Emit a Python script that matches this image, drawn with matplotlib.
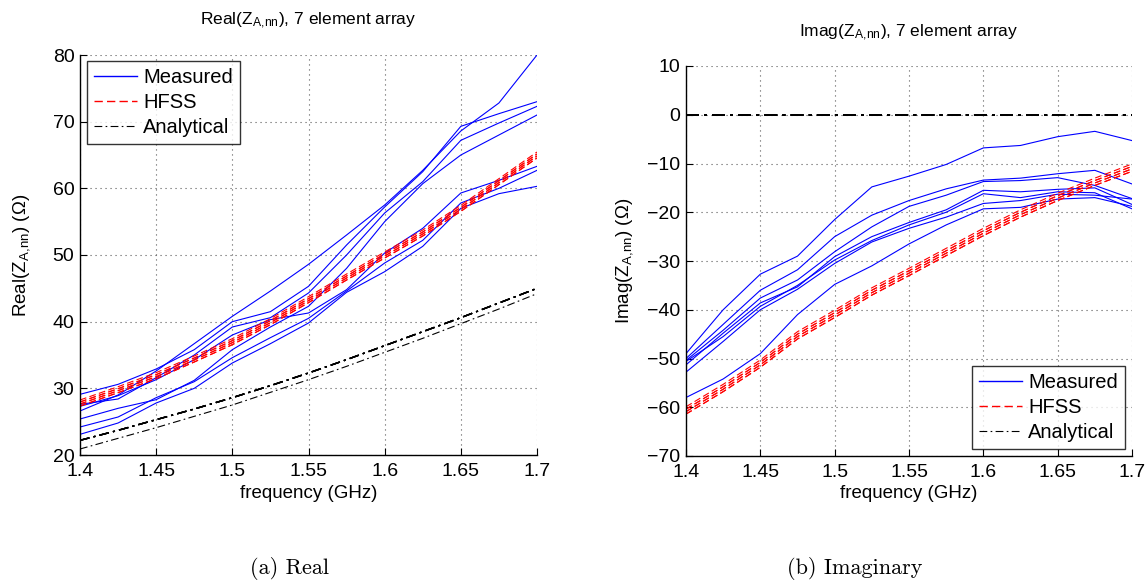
import matplotlib
matplotlib.use("Agg")
import matplotlib.pyplot as plt
import numpy as np
from matplotlib.lines import Line2D

plt.rcParams['font.family'] = ['Liberation Sans', 'DejaVu Sans']
plt.rcParams['mathtext.default'] = 'regular'

# ---------------- data ----------------
freq = [1.4, 1.425, 1.45, 1.475, 1.5, 1.525, 1.55, 1.575, 1.6, 1.625, 1.65, 1.675, 1.7]
xtick_vals = [1.4, 1.45, 1.5, 1.55, 1.6, 1.65, 1.7]
xtick_labels = ['1.4', '1.45', '1.5', '1.55', '1.6', '1.65', '1.7']

# Real part, measured (7 elements)
real_meas_1 = [26.6, 29.0, 32.6, 36.7, 40.8, 44.6, 48.6, 53.0, 57.5, 62.7, 68.6, 72.8, 80.0]
real_meas_2 = [29.1, 30.6, 32.9, 35.8, 40.0, 41.5, 45.3, 51.5, 57.2, 62.5, 69.3, 71.2, 73.0]
real_meas_3 = [27.6, 28.4, 31.6, 35.0, 39.2, 40.6, 44.3, 50.0, 56.3, 61.0, 67.2, 69.8, 72.3]
real_meas_4 = [25.4, 27.0, 28.3, 31.2, 35.8, 39.2, 42.3, 48.0, 55.0, 60.7, 65.0, 68.0, 71.0]
real_meas_5 = [27.3, 28.9, 31.3, 34.3, 38.0, 40.3, 41.3, 44.8, 50.3, 54.0, 59.3, 61.2, 63.3]
real_meas_6 = [24.2, 25.7, 28.6, 31.0, 34.6, 37.6, 40.5, 44.6, 48.8, 52.2, 57.8, 60.0, 62.7]
real_meas_7 = [23.1, 24.8, 27.8, 30.0, 33.8, 36.7, 39.8, 44.4, 47.5, 51.3, 57.0, 59.2, 60.3]
real_measured = [real_meas_1, real_meas_2, real_meas_3, real_meas_4,
                 real_meas_5, real_meas_6, real_meas_7]

# Real part, HFSS (centre curve and per-element spread)
real_hfss_centre = [27.8, 29.8, 31.9, 34.4, 37.0, 40.0, 43.3, 46.7, 50.0, 53.3, 57.0, 61.0, 65.0]
real_hfss_offsets = [-0.45, -0.45, -0.15, -0.15, 0.15, 0.15, 0.45]

# Real part, analytical (two visible groups)
real_anal_a = [22.2, 23.7, 25.3, 26.9, 28.6, 30.4, 32.3, 34.3, 36.4, 38.5, 40.6, 42.8, 45.0]
real_anal_b = [20.9, 22.5, 24.1, 25.8, 27.5, 29.4, 31.3, 33.3, 35.4, 37.5, 39.7, 41.9, 44.2]

# Imaginary part, measured (7 elements)
imag_meas_1 = [-49.0, -40.0, -32.7, -29.0, -21.5, -14.8, -12.6, -10.2, -6.8, -6.3, -4.5, -3.4, -5.3]
imag_meas_2 = [-50.0, -43.0, -36.0, -31.8, -25.0, -20.6, -17.6, -15.2, -13.4, -13.0, -12.1, -11.4, -14.2]
imag_meas_3 = [-50.4, -44.2, -37.6, -33.9, -28.1, -23.0, -18.8, -16.5, -13.7, -13.5, -12.9, -14.5, -17.2]
imag_meas_4 = [-51.3, -44.8, -38.6, -35.3, -29.1, -25.0, -22.1, -19.5, -15.5, -15.8, -15.3, -15.0, -18.4]
imag_meas_5 = [-50.6, -45.5, -39.3, -35.0, -29.8, -25.8, -22.6, -20.0, -16.2, -17.0, -15.8, -16.0, -19.3]
imag_meas_6 = [-52.8, -46.5, -40.0, -35.8, -30.5, -26.1, -23.3, -21.0, -18.2, -17.6, -16.3, -16.5, -17.3]
imag_meas_7 = [-58.0, -54.2, -49.0, -41.0, -34.8, -31.0, -26.5, -22.6, -19.3, -19.0, -17.3, -17.0, -18.8]
imag_measured = [imag_meas_1, imag_meas_2, imag_meas_3, imag_meas_4,
                 imag_meas_5, imag_meas_6, imag_meas_7]

imag_hfss_centre = [-60.6, -56.0, -51.0, -45.2, -40.8, -36.2, -32.2, -28.1, -24.0, -20.2, -16.8, -13.7, -10.8]
imag_hfss_offsets = [-0.8, -0.8, -0.3, -0.3, 0.2, 0.2, 0.7]

imag_anal = [0.0] * len(freq)

# ---------------- styles ----------------
BLUE = '#0000ff'
RED = '#ff0000'
DASH = (0, (6, 3))
DASHDOT = (0, (7, 3, 1.5, 3))

fig = plt.figure(figsize=(11.48, 5.82), dpi=100)
axL = fig.add_axes([80/1148, 1-455/582, 457/1148, 400/582])
axR = fig.add_axes([686/1148, 1-456/582, 446/1148, 390/582])


def style_axes(ax, ylim, yticks):
    ax.set_xlim(1.4, 1.7)
    ax.set_ylim(*ylim)
    ax.set_xticks(xtick_vals)
    ax.set_xticklabels(xtick_labels)
    ax.set_yticks(yticks)
    ax.spines['top'].set_visible(False)
    ax.spines['right'].set_visible(False)
    ax.spines['left'].set_linewidth(1.0)
    ax.spines['bottom'].set_linewidth(1.0)
    ax.tick_params(direction='in', length=5, width=0.8, labelsize=14)
    ax.tick_params(axis='x', pad=6)
    ax.tick_params(axis='y', pad=4)
    ax.grid(True, color='0.35', linestyle=(0, (1, 3.5)), linewidth=0.8)
    ax.set_axisbelow(True)


# ---- left: real part ----
for y in real_measured:
    axL.plot(freq, y, color=BLUE, lw=0.8)
for off in real_hfss_offsets:
    axL.plot(freq, np.array(real_hfss_centre) + off, color=RED, lw=0.8, linestyle=DASH)
for k in range(5):
    axL.plot(freq, real_anal_a, color='k', lw=1.0, linestyle=DASHDOT)
axL.plot(freq, real_anal_b, color='k', lw=0.8, linestyle=DASHDOT)
style_axes(axL, (20, 80), range(20, 81, 10))

# ---- right: imaginary part ----
for y in imag_measured:
    axR.plot(freq, y, color=BLUE, lw=0.8)
for off in imag_hfss_offsets:
    axR.plot(freq, np.array(imag_hfss_centre) + off, color=RED, lw=0.8, linestyle=DASH)
for k in range(7):
    axR.plot(freq, imag_anal, color='k', lw=1.3, linestyle=DASHDOT)
style_axes(axR, (-70, 10), range(-70, 11, 10))

handles = [Line2D([], [], color=BLUE, lw=1.0),
           Line2D([], [], color=RED, lw=1.0, linestyle=DASH),
           Line2D([], [], color='k', lw=0.8, linestyle=DASHDOT)]
labels = ['Measured', 'HFSS', 'Analytical']

legkw = dict(borderaxespad=0, fontsize=14.5, frameon=True, fancybox=False,
             handlelength=2.15, handletextpad=0.3, labelspacing=0.3, borderpad=0.35)
legL = axL.legend(handles, labels, loc='upper left', bbox_to_anchor=(0.015, 0.985), **legkw)
legR = axR.legend(handles, labels, loc='lower right', bbox_to_anchor=(0.984, 0.018), **legkw)
for leg in (legL, legR):
    leg.get_frame().set_edgecolor('k')
    leg.get_frame().set_linewidth(1.0)

# labels & titles
axL.set_xlabel('frequency (GHz)', fontsize=13.5)
axR.set_xlabel('frequency (GHz)', fontsize=13.5)
axL.xaxis.set_label_coords(0.5, -0.075)
axR.xaxis.set_label_coords(0.5, -0.074)
axL.set_ylabel(r'Real(Z$_{A,\!nn}$) ($\Omega$)', fontsize=13.5)
axR.set_ylabel(r'Imag(Z$_{A,\!nn}$) ($\Omega$)', fontsize=13.5)
axL.yaxis.set_label_coords(-0.105, 0.5)
axR.yaxis.set_label_coords(-0.114, 0.5)

axL.text(0.5, 1.085, r'Real(Z$_{A,\!nn}$), 7 element array', transform=axL.transAxes,
         ha='center', va='center', fontsize=12.5)
axR.text(0.5, 1.085, r'Imag(Z$_{A,\!nn}$), 7 element array', transform=axR.transAxes,
         ha='center', va='center', fontsize=12.5)

fig.text(290/1148, 1-568/582, '(a) Real', ha='center', va='center',
         family=['cmr10', 'DejaVu Serif'], fontsize=16)
fig.text(855/1148, 1-568/582, '(b) Imaginary', ha='center', va='center',
         family=['cmr10', 'DejaVu Serif'], fontsize=16)

fig.savefig('out.png', dpi=100)
